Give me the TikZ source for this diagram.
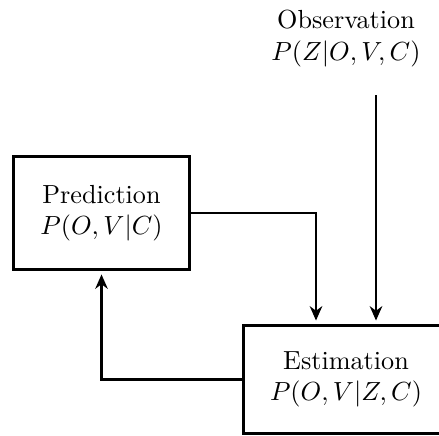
\documentclass[tikz,border=0pt]{standalone}
\usetikzlibrary{arrows.meta,calc}

\begin{document}
\begin{tikzpicture}[x=0.382pt,y=-0.382pt,
  blk/.style={draw,line width=1.15pt,align=center,inner sep=0pt},
  flow/.style={line width=0.85pt,-{Stealth[length=5.5pt,width=4.8pt]},shorten >=1.5pt}]
\useasboundingbox (0,0) rectangle (439,435);
\clip (0,0) rectangle (439,435);
\node[blk,minimum width=67.6pt,minimum height=42.8pt] (pred) at (101.5,213) {Prediction\\$P(O,V|C)$};
\node[blk,minimum width=78pt,minimum height=40.9pt] (est) at (346,379.5) {Estimation\\$P(O,V|Z,C)$};
\node[align=center,inner sep=0pt] (obs) at (346,38.5) {Observation\\$P(Z|O,V,C)$};
\coordinate (obsout) at (376,95);
% loop between the two boxes
\draw[flow] (pred.east) -| ($(est.north)+(-30,0)$);
\draw[flow] (obsout) -- (obsout |- est.north);
\draw[flow] (est.west) -| (pred.south);
\end{tikzpicture}
\end{document}
